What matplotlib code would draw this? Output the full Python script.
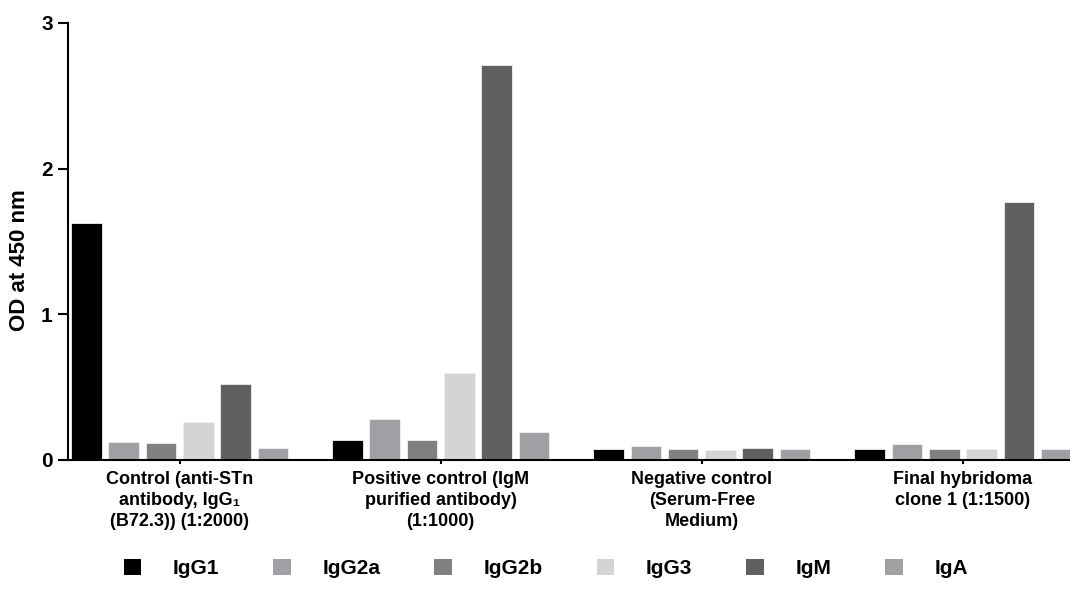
import numpy as np
import matplotlib.pyplot as plt
import matplotlib.transforms as mtransforms
from matplotlib.patches import Patch

plt.rcParams['font.family'] = ['Liberation Sans', 'DejaVu Sans']
plt.rcParams['font.weight'] = 'bold'

# data
groups = ['Control (anti-STn\nantibody, IgG\u2081\n(B72.3)) (1:2000)',
          'Positive control (IgM\npurified antibody)\n(1:1000)',
          'Negative control\n(Serum-Free\nMedium)',
          'Final hybridoma\nclone 1 (1:1500)']
isotypes = ['IgG1', 'IgG2a', 'IgG2b', 'IgG3', 'IgM', 'IgA']
igg1 = [1.63, 0.137, 0.073, 0.073]
igg2a = [0.125, 0.28, 0.096, 0.107]
igg2b = [0.114, 0.137, 0.073, 0.073]
igg3 = [0.26, 0.596, 0.07, 0.073]
igm = [0.52, 2.71, 0.085, 1.77]
iga = [0.08, 0.195, 0.073, 0.073]
series = [igg1, igg2a, igg2b, igg3, igm, iga]
colors = ['#000000', '#a0a0a4', '#808080', '#d4d4d4', '#606060', '#a0a0a4']

fig = plt.figure(figsize=(10.7, 6.02), dpi=100)
ax = fig.add_axes([0.0636, 0.2359, 0.9364, 0.726])

gap = 7.0  # one group = 6 bars + 1 empty slot
base = np.arange(len(groups)) * gap
for i, vals in enumerate(series):
    ax.bar(base + i, vals, width=0.82, color=colors[i],
           edgecolor='#f0f0f0', linewidth=0.6, zorder=2)

ax.set_xlim(-0.49, 26.37)
ax.set_ylim(0, 3)
ax.set_yticks([0, 1, 2, 3])
ax.set_xticks(base + 2.5)
ax.set_xticklabels(groups, fontsize=13, fontweight='bold', linespacing=1.3)
for lab in ax.get_yticklabels():
    lab.set_fontsize(15)
    lab.set_fontweight('bold')

# first label sits a bit to the right of its tick in the original
first = ax.get_xticklabels()[0]
first.set_transform(first.get_transform() +
                    mtransforms.ScaledTranslation(16 / 100, 0, fig.dpi_scale_trans))

for s in ['top', 'right']:
    ax.spines[s].set_visible(False)
for s in ['left', 'bottom']:
    ax.spines[s].set_linewidth(1.5)
ax.tick_params(axis='y', length=7, width=1.5, pad=4)
ax.tick_params(axis='x', length=3, width=1.5, pad=5)

ax.set_ylabel('OD at 450 nm', fontsize=16, fontweight='bold')
ax.yaxis.set_label_coords(-0.038, 0.458)

handles = [Patch(facecolor=c, edgecolor='none') for c in colors]
fig.legend(handles, isotypes, loc='center', bbox_to_anchor=(0.51, 0.056),
           ncol=6, frameon=False, prop={'size': 15, 'weight': 'bold'},
           handlelength=0.85, handleheight=0.85, handletextpad=1.5,
           columnspacing=2.6)

fig.savefig('out.png', dpi=100)
